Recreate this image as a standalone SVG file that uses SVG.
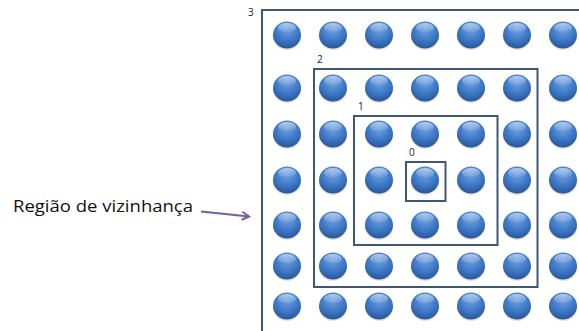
<svg xmlns="http://www.w3.org/2000/svg" width="579" height="331" viewBox="0 0 579 331">
<style>
.box{fill:none;stroke:#3e5873;stroke-width:2}
.lbl{font-family:"Open Sans","Liberation Sans",sans-serif;font-size:10px;fill:#222}
.main{font-family:"Open Sans","Liberation Sans",sans-serif;font-size:16px;fill:#111}
</style>
<defs>
<radialGradient id="g" cx="0.5" cy="0.3" r="0.75">
<stop offset="0" stop-color="#6fa0e0"/>
<stop offset="0.55" stop-color="#3d78c6"/>
<stop offset="1" stop-color="#24508f"/>
</radialGradient>
<linearGradient id="hl" x1="0" y1="0" x2="0" y2="1">
<stop offset="0" stop-color="#fff" stop-opacity="0.55"/>
<stop offset="1" stop-color="#fff" stop-opacity="0"/>
</linearGradient>
<g id="dot">
<ellipse cx="0" cy="1.5" rx="14" ry="13.5" fill="#000" opacity="0.12"/>
<ellipse cx="0" cy="0" rx="14" ry="13.5" fill="url(#g)"/>
<ellipse cx="0" cy="-7" rx="9" ry="5" fill="url(#hl)"/>
</g>
<marker id="ah" markerWidth="10" markerHeight="10" refX="8" refY="5" orient="auto" markerUnits="userSpaceOnUse">
<path d="M1,1 L8,5 L1,9" fill="none" stroke="#7b5c9c" stroke-width="2"/>
</marker>
</defs>
<rect width="579" height="331" fill="#fff"/>
<g id="dots">
<use href="#dot" x="287" y="35"/><use href="#dot" x="333" y="35"/><use href="#dot" x="379" y="35"/><use href="#dot" x="425" y="35"/><use href="#dot" x="471" y="35"/><use href="#dot" x="517" y="35"/><use href="#dot" x="563" y="35"/>
<use href="#dot" x="287" y="88"/><use href="#dot" x="333" y="88"/><use href="#dot" x="379" y="88"/><use href="#dot" x="425" y="88"/><use href="#dot" x="471" y="88"/><use href="#dot" x="517" y="88"/><use href="#dot" x="563" y="88"/>
<use href="#dot" x="287" y="134"/><use href="#dot" x="333" y="134"/><use href="#dot" x="379" y="134"/><use href="#dot" x="425" y="134"/><use href="#dot" x="471" y="134"/><use href="#dot" x="517" y="134"/><use href="#dot" x="563" y="134"/>
<use href="#dot" x="287" y="180"/><use href="#dot" x="333" y="180"/><use href="#dot" x="379" y="180"/><use href="#dot" x="425" y="180"/><use href="#dot" x="471" y="180"/><use href="#dot" x="517" y="180"/><use href="#dot" x="563" y="180"/>
<use href="#dot" x="287" y="225"/><use href="#dot" x="333" y="225"/><use href="#dot" x="379" y="225"/><use href="#dot" x="425" y="225"/><use href="#dot" x="471" y="225"/><use href="#dot" x="517" y="225"/><use href="#dot" x="563" y="225"/>
<use href="#dot" x="287" y="266"/><use href="#dot" x="333" y="266"/><use href="#dot" x="379" y="266"/><use href="#dot" x="425" y="266"/><use href="#dot" x="471" y="266"/><use href="#dot" x="517" y="266"/><use href="#dot" x="563" y="266"/>
<use href="#dot" x="287" y="306"/><use href="#dot" x="333" y="306"/><use href="#dot" x="379" y="306"/><use href="#dot" x="425" y="306"/><use href="#dot" x="471" y="306"/><use href="#dot" x="517" y="306"/><use href="#dot" x="563" y="306"/>
</g>
<g id="region3">
<rect class="box" x="262" y="10" width="330" height="340"/>
<text class="lbl" x="248" y="16">3</text>
</g>
<g id="region2">
<rect class="box" x="314" y="69" width="223.5" height="218"/>
<text class="lbl" x="317" y="63">2</text>
</g>
<g id="region1">
<rect class="box" x="354" y="116" width="143.5" height="129"/>
<text class="lbl" x="358" y="110">1</text>
</g>
<g id="region0">
<rect class="box" x="406" y="162" width="39.5" height="39"/>
<text class="lbl" x="409" y="156">0</text>
</g>
<g id="label">
<text class="main" x="13" y="212" textLength="180" lengthAdjust="spacingAndGlyphs">Região de vizinhança</text>
</g>
<g id="connectors">
<line x1="201" y1="211.5" x2="249" y2="216.5" stroke="#7b5c9c" stroke-width="2.2" marker-end="url(#ah)"/>
</g>
</svg>
